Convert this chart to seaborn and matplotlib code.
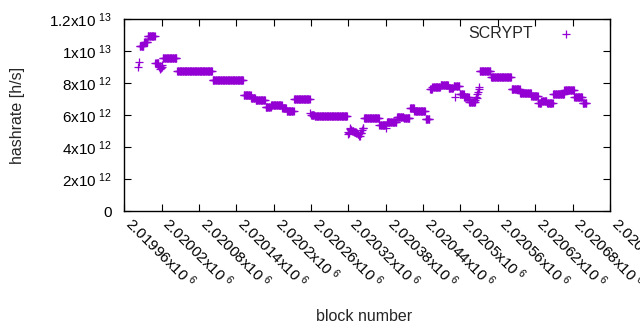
import numpy as np
import pandas as pd
import matplotlib
matplotlib.use("Agg")
import matplotlib.pyplot as plt
from matplotlib.ticker import FuncFormatter, MultipleLocator
import seaborn as sns

# Difficulty runs: first block, last block, hashrate [1e12 h/s]
seg_start = [2019983, 2019984, 2019985, 2019992, 2019998, 2020010, 2020016, 2020017, 2020018, 2020019,
             2020020, 2020021, 2020022, 2020045, 2020102, 2020152, 2020164, 2020171, 2020187, 2020196,
             2020214, 2020221, 2020233, 2020259, 2020260, 2020266,
             2020319, 2020320, 2020321, 2020322, 2020323, 2020324, 2020326, 2020329, 2020331, 2020333,
             2020335, 2020337, 2020339, 2020340, 2020342, 2020343,
             2020345, 2020370, 2020381, 2020382, 2020398, 2020409, 2020419, 2020426, 2020444, 2020451,
             2020455, 2020468, 2020481, 2020489, 2020492, 2020493, 2020499, 2020506, 2020514, 2020524,
             2020525, 2020526, 2020527, 2020528, 2020529, 2020530, 2020531, 2020549, 2020582, 2020596,
             2020614, 2020625, 2020630, 2020639, 2020649, 2020667, 2020683, 2020696]
seg_end = [2019983, 2019984, 2019991, 2019997, 2020009, 2020015, 2020016, 2020017, 2020018, 2020019,
           2020020, 2020021, 2020044, 2020101, 2020151, 2020163, 2020170, 2020186, 2020195, 2020213,
           2020220, 2020232, 2020258, 2020259, 2020265, 2020318,
           2020319, 2020320, 2020321, 2020322, 2020323, 2020325, 2020328, 2020330, 2020332, 2020334,
           2020336, 2020338, 2020339, 2020341, 2020342, 2020344,
           2020369, 2020380, 2020381, 2020397, 2020408, 2020418, 2020425, 2020443, 2020450, 2020454,
           2020467, 2020480, 2020488, 2020491, 2020492, 2020498, 2020505, 2020513, 2020523, 2020524,
           2020525, 2020526, 2020527, 2020528, 2020529, 2020530, 2020548, 2020581, 2020595, 2020613,
           2020624, 2020629, 2020638, 2020648, 2020666, 2020682, 2020695, 2020702]
seg_value = [8.98, 9.29, 10.3, 10.56, 10.92, 9.25, 9.0, 8.88, 9.05, 8.95,
             9.12, 9.02, 9.54, 8.78, 8.17, 7.23, 7.08, 6.92, 6.47, 6.62,
             6.42, 6.25, 6.98, 6.1, 6.0, 5.93,
             4.79, 4.95, 4.9, 5.1, 5.17, 5.08, 5.0, 4.95, 4.92, 4.86,
             4.79, 4.69, 4.85, 4.9, 5.06, 5.2,
             5.84, 5.36, 5.17, 5.55, 5.9, 5.79, 6.44, 6.24, 5.73, 7.6,
             7.77, 7.875, 7.67, 7.8, 7.1, 7.8, 7.29, 7.1, 6.83, 6.95,
             7.14, 7.05, 7.3, 7.46, 7.6, 7.73, 8.73, 8.35, 7.6, 7.35,
             7.16, 6.75, 6.88, 6.72, 7.29, 7.56, 7.1, 6.73]

# one point per block
blocks, rates = [], []
for s, e, v in zip(seg_start, seg_end, seg_value):
    n = np.arange(s, e + 1)
    blocks.extend(n)
    rates.extend([v * 1e12] * len(n))
df = pd.DataFrame({"block": blocks, "hashrate": rates})

sns.set_theme(style="ticks")
plt.rcParams['font.family'] = ['Liberation Sans', 'DejaVu Sans']
plt.rcParams['mathtext.fontset'] = 'custom'
plt.rcParams['mathtext.rm'] = 'Liberation Sans'

col = "#9400D3"
fig = plt.figure(figsize=(6.4, 3.3), dpi=100)
ax = fig.add_axes([0.194, 0.3606, 0.759, 0.5818])

sns.scatterplot(data=df, x="block", y="hashrate", marker="+", color=col,
                s=30, linewidth=0.9, ax=ax, label="SCRYPT")

ax.set_xlim(2019960, 2020740)
ax.set_ylim(0, 1.2e13)
ax.xaxis.set_major_locator(MultipleLocator(60))
ax.yaxis.set_major_locator(MultipleLocator(2e12))


def yfmt(v, pos):
    if abs(v) < 1:
        return "0"
    if v < 0:
        return ""
    exp = int(np.floor(np.log10(v) + 1e-9))
    mant = round(v / 10 ** exp, 3)
    return r"$\mathregular{%gx10^{\ %d}}$" % (mant, exp)


def xfmt(v, pos):
    return r"$\mathregular{%gx10^{\ 6}}$" % round(v / 1e6, 6)


ax.yaxis.set_major_formatter(FuncFormatter(yfmt))
ax.xaxis.set_major_formatter(FuncFormatter(xfmt))

ax.tick_params(direction="in", top=True, right=True, length=5, width=0.8,
               labelsize=11, colors="black")
ax.tick_params(axis="y", pad=9)
ax.tick_params(axis="x", pad=10)
for lab in ax.get_xticklabels():
    lab.set_rotation(-45)
    lab.set_ha("left")
    lab.set_va("baseline")
    lab.set_rotation_mode("anchor")
for sp in ax.spines.values():
    sp.set_linewidth(1.0)
    sp.set_color("black")

ax.set_xlabel("block number", fontsize=11.5)
ax.set_ylabel("hashrate [h/s]", fontsize=11.5)
ax.xaxis.set_label_coords(0.494, -0.51)
ax.yaxis.set_label_coords(-0.204, 0.5)

leg = ax.legend(loc="upper right", bbox_to_anchor=(0.955, 0.995), borderaxespad=0,
                frameon=False, markerfirst=False, fontsize=11.5,
                handletextpad=1.05, handlelength=2.0)

fig.savefig("out.png", dpi=100)
